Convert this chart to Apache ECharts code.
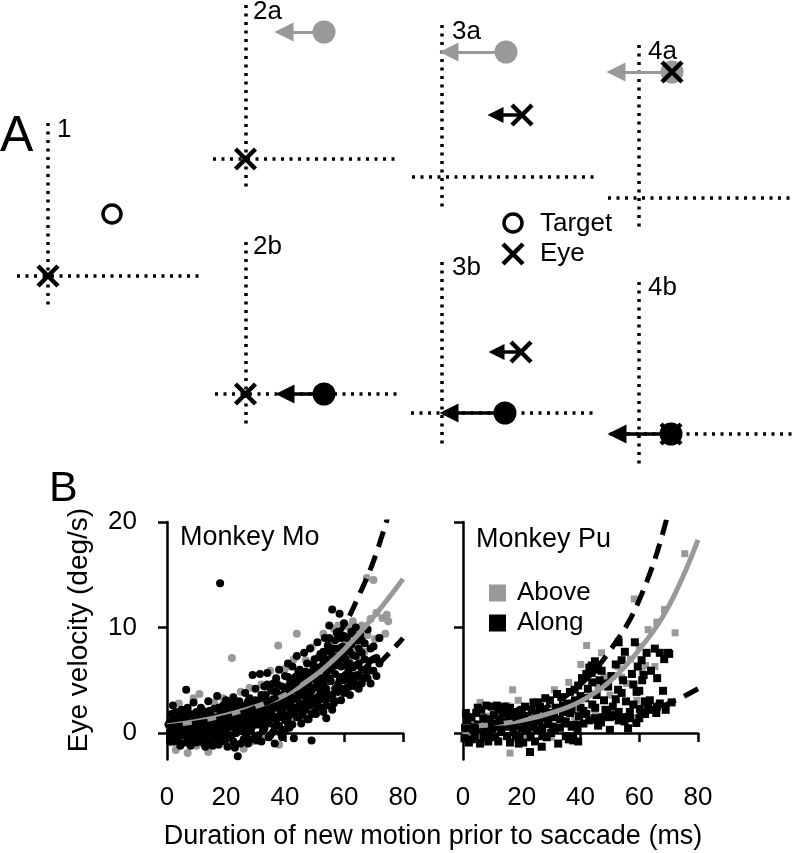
<!DOCTYPE html>
<html><head><meta charset="utf-8">
<script src="https://cdn.jsdelivr.net/npm/echarts@6/dist/echarts.min.js"></script>
<style>html,body{margin:0;padding:0;background:#fff}#c{width:794px;height:853px}</style>
</head><body><div id="c"></div>
<script>
const FONT = '"Liberation Sans", Arial, Helvetica, sans-serif';
const GRAY = '#999999';

// ---------- Panel A schematic (schematic canvas units) ----------
// vertical dotted axes: [x, yTop, yBottom]
const vDotted = [[48,123,310],[245.5,5,190],[245.5,242,427],[442,25,210],[442,262,447],[639,45,230],[639,282,467]];
// horizontal dotted axes: [y, xLeft, xRight]
const hDotted = [[276,17,202],[159,213,400],[394,215,397],[177,412,597],[413,411,595],[198,608,794],[434,610,794]];
const targetGray = [[324,32],[506,52],[672,72]];
const targetBlack = [[324,394],[505,413],[671,434]];
const targetOpen = [[112,214],[513,223]];
const eyePos = [[48,276],[245.5,159],[245.5,394],[522,115],[521,352],[672,72],[671,434],[513,254]];
// arrows: [fromX, y, tipX]
const arrowGray = [[324,32,275],[506,52,440],[672,72,607]];
const arrowBlack = [[324,394,276],[505,413,440],[671,434,608]];
const arrowEye = [[522,115,488],[521,352,489]];
const panelLabels = [['1',57,130],['2a',253,12],['2b',253,247],['3a',452,32],['3b',452,268],['4a',648,52],['4b',648,288]];
const keyLabels = [['Target',540,224],['Eye',540,254]];

// ---------- Panel B data ----------
const yTicks = [0,10,20];
const moBlack = [
[1,0.2],[1,1.1],[1.5,-0.4],[2,2.6],[2,0.6],[2.5,-0.8],[3,1.4],[3,0.0],[3.5,0.9],[4,-0.3],[4,1.7],[4.5,0.4],[5,1.5],[5,-1.0],[5.5,0.7],
[6,2.1],[6,-0.2],[6.5,4.1],[7,1.0],[7,-0.7],[7.5,0.3],[8,1.8],[8,-1.2],[8.5,0.8],[9,2.9],[9,-0.1],[9.5,1.3],[10,0.4],[10,-0.9],
[10.5,1.9],[11,0.9],[11,-0.5],[11.5,2.4],[12,0.1],[12,1.4],[12.5,-1.0],[13,0.6],[13,2.0],[13.5,-0.3],[14,1.2],[14,3.0],[14.5,0.2],[15,-0.8],[15,1.6],
[15.5,0.7],[16,2.3],[16,-0.2],[16.5,1.1],[17,3.5],[17,0.4],[17.5,-1.1],[18,1.8],[18,14.2],[18.5,0.9],[19,2.6],[19,-0.4],[19.5,1.4],[20,0.2],[20,3.1],
[20.5,-1.3],[21,1.9],[21,0.7],[21.5,2.8],[22,-0.2],[22,1.3],[22.5,3.4],[23,0.5],[23,-1.4],[23.5,2.2],[24,1.0],[24,-2.2],[24.5,3.0],[25,0.2],[25,1.7],
[25.5,2.6],[26,-0.6],[26,1.2],[26.5,3.8],[27,0.6],[27,2.1],[27.5,-1.0],[28,1.5],[28,3.3],[28.5,0.3],[29,2.5],[29,5.5],[29.5,1.0],[30,-0.3],[30,4.2],
[30.5,2.0],[31,0.8],[31,3.0],[31.5,5.6],[32,1.6],[32,-0.8],[32.5,2.7],[33,4.4],[33,0.4],[33.5,3.6],[34,1.9],[34,5.7],[34.5,0.9],[35,2.9],[35,-0.2],
[35.5,4.0],[36,1.4],[36,4.7],[36.5,-1.0],[37,2.4],[37,5.2],[37.5,3.4],[38,0.7],[38,6.0],[38.5,2.0],[39,4.4],[39,-0.4],[39.5,3.0],[40,1.2],[40,5.4],
[40.5,2.5],[41,3.9],[41,6.6],[41.5,0.5],[42,4.8],[42,2.0],[42.5,6.3],[43,3.3],[43,-0.5],[43.5,5.3],[44,1.5],[44,7.3],[44.5,4.2],[45,2.8],[45,6.0],
[45.5,0.9],[46,5.0],[46,3.6],[46.5,7.6],[47,2.2],[47,4.6],[47.5,6.6],[48,1.3],[48,3.9],[48.5,8.0],[49,5.6],[49,-0.7],[49.5,2.9],[50,7.0],[50,4.3],
[50.5,1.8],[51,6.2],[51,8.6],[51.5,3.5],[52,5.2],[52,7.5],[52.5,2.4],[53,6.8],[53,4.6],[53.5,9.0],[54,1.4],[54,5.8],[54.5,3.3],[55,7.8],[55,10.2],
[55.5,4.9],[56,6.6],[56,11.7],[56.5,2.8],[57,8.8],[57,5.6],[57.5,7.2],[58,3.9],[58,9.6],[58.5,11.3],[59,6.3],[59,3.1],[59.5,8.2],[60,5.0],[60,10.4],
[60.5,7.0],[61,4.3],[61,9.0],[61.5,5.9],[62,7.7],[62,3.6],[62.5,8.4],[63,9.4],[63,6.2],[63.5,4.8],[64,7.3],[64,10.0],[64.5,5.5],[65,8.0],[65,6.6],
[65.5,9.3],[66,4.7],[66,7.6],[67,6.0],[67,8.5],[68,5.2],[68,9.8],[68.5,6.8],[69,8.0],[70,8.2],[70,5.9],[71,7.1],[72,6.6],[72,9.0],
[0.5,0.8],[1.5,1.8],[2,-0.2],[2.5,1.3],[3,0.5],[3.5,-0.6],[4,1.0],[4.5,-1.2],[5,2.2],[5.5,0.0],[6,1.2],[6.5,-0.9],[7,1.7],[7.5,-0.3],[8,0.9],[8.5,-0.5],[9,1.6],[9.5,0.5],[10,1.2],
[10.5,-0.2],[11,1.5],[11.5,0.3],[12,-0.6],[12,2.1],[12.5,0.8],[13,-1.3],[13.5,1.3],[14,0.0],[14.5,2.1],[15,0.4],[15.5,-1.2],[16,1.5],[16.5,-0.5],[17,1.0],[17.5,2.4],[18,0.0],[18.5,-0.8],[19,1.0],[19.5,0.3],[20,1.6],[20,-0.6],
[20.5,2.4],[21,-0.3],[21.5,1.3],[22,2.1],[22.5,-0.8],[23,1.4],[23.5,0.0],[24,2.6],[24.5,0.6],[25,-1.0],[25.5,1.0],[26,2.1],[26.5,0.0],[27,1.4],[27.5,3.0],[28,0.2],[28.5,2.2],[29,-0.6],[29.5,1.7],[30,3.1],[30,0.8],
[30.5,-0.7],[31,2.0],[31.5,1.2],[32,3.6],[32.5,0.2],[33,2.2],[33.5,1.3],[34,3.0],[34.5,-0.4],[35,4.3],[35.5,1.8],[36,3.2],[36.5,0.6],[37,1.3],[37.5,4.6],[38,2.8],[38.5,0.0],[39,3.6],[39.5,1.8],[40,4.0],[40,0.3],
[40.5,3.3],[41,1.5],[41.5,4.6],[42,3.4],[42.5,0.8],[43,5.0],[43.5,2.4],[44,4.0],[44.5,5.8],[45,1.6],[45.5,4.6],[46,2.6],[46.5,5.5],[47,3.4],[47.5,1.3],[48,5.4],[48.5,2.6],[49,4.0],[49.5,6.5],[50,2.0],
[50.5,5.0],[51,3.0],[51.5,7.2],[52,4.0],[52.5,6.3],[53,2.0],[53.5,5.3],[54,7.0],[54.5,8.3],[55,3.6],[55.5,6.0],[56,2.2],[56.5,8.0],[57,4.2],[57.5,9.5],[58,6.8],[58.5,5.0],[59,9.0],[59.5,4.2],[60,7.6],
[60.5,5.5],[61,8.0],[62,5.0],[62.5,9.6],[63,7.4],[64,4.4],[64.5,8.8],[65,5.4],[66,8.8],[67,7.0],[68,6.2],[69,4.7],[70,7.0],[71,5.4],
[1,-0.8],[2,1.6],[3,2.0],[4,0.1],[5,0.3],[6,0.6],[7,2.4],[8,-0.4],[9,0.6],[10,2.0],
[11,0.2],[12,0.8],[13,-0.5],[14,0.7],[15,1.1],[16,0.1],[17,-0.4],[18,0.6],[19,1.9],[20,-0.1],
[21,1.1],[22,0.6],[23,2.8],[24,1.5],[25,0.7],[26,1.6],[27,-0.4],[28,2.7],[29,0.7],[30,1.4],
[31,2.5],[31,-0.2],[32,1.0],[33,3.0],[34,1.3],[34,4.6],[35,2.3],[36,0.1],[36,2.6],[37,3.9],
[38,1.5],[38,3.5],[39,2.4],[40,2.8],[41,0.9],[41,5.3],[42,2.7],[43,1.8],[43,4.1],[44,2.3],
[44,3.2],[45,3.6],[45,5.1],[46,1.8],[46,4.2],[47,2.9],[47,5.8],[48,3.2],[48,4.7],[49,1.8],
[49,3.4],[50,5.6],[51,2.4],[51,4.6],[52,3.2],[52,6.2],[53,3.8],[53,7.7],[54,4.2],[54,2.6],
[55,5.2],[55,9.0],[56,3.6],[56,7.4],[57,3.0],[57,6.4],[58,4.6],[58,8.0],[59,5.3],[59,7.2],
[60,3.8],[60,9.2],[61,6.4],[62,4.4],[62,6.6],[63,5.4],[64,6.4],[65,4.2],[66,6.0],[67,5.2]
];
const moGray = [
[1,0.5],[1.5,-0.9],[2,1.2],[3,-1.6],[3.5,0.3],[4,2.8],[5,0.9],[6,-0.6],[7,-1.9],[7.5,1.6],[8,0.2],[9,3.3],[10,-1.2],[10.5,1.0],[11,3.7],
[12,-0.2],[13,1.8],[14,-1.8],[15,0.8],[16,2.9],[17,-0.9],[18,1.5],[19,3.3],[20,-0.5],[21,2.3],[22,7.1],[22.5,0.4],[23,-1.2],[24,2.0],[25,3.9],
[26,-1.5],[27,1.2],[28,4.3],[29,-0.8],[30,2.9],[31,0.8],[32,4.6],[33,-0.4],[34,2.3],[35,5.9],[36,1.2],[37,3.7],[37.7,8.3],[38,-1.1],[39,2.6],
[40,6.1],[41,4.2],[42,1.1],[43,7.0],[44,9.4],[44.5,3.4],[45,5.7],[46,2.0],[47,6.9],[48,4.4],[49,8.1],[50,3.0],[51,5.8],[52,7.3],[53,9.4],
[54,4.9],[55,8.6],[56,6.2],[56.5,9.9],[57,3.8],[58,10.2],[58.5,7.8],[59,9.4],[60,6.4],[60.5,8.8],[61,10.1],[62,7.2],[62.5,9.5],[63,10.6],[63.2,9.9],
[64,8.2],[65,9.1],[65.5,6.8],[66,10.2],[67,7.7],[67.7,14.7],[68,9.3],[69,10.8],[70,14.5],[70.5,8.9],[71,11.4],[72,9.0],[73,10.9],[74,9.4],[74.5,11.2],[75,10.6]
];
const moFitX = [0,10,20,30,40,50,60,70,80];
const moFitMid = [0.7,1.1,1.7,2.5,3.6,5.4,7.9,11.0,14.6];
const moFitUpX = [0,10,20,30,40,50,60,65,70,75];
const moFitUp = [0.6,0.95,1.5,2.4,3.9,6.3,10.2,13.0,16.3,20.6];
const moFitLow = [0.4,0.6,0.85,1.25,1.85,2.8,4.1,6.1,9.0];

const puBlack = [
[0.5,-0.5],[0.7,0.5],[1.5,1.2],[2,-0.9],[2.9,1.5],[3.5,0.3],[4,-0.3],[4.5,1.9],[5,0.8],[5.8,-1.0],[6.2,2.2],[6.9,1.4],[7.5,0.2],[8,2.6],[8.6,-0.8],[9,1.0],[9.8,2.5],[10,0.4],
[10.5,1.7],[11,-0.4],[11.5,0.9],[12,2.2],[12.5,1.3],[13,0.1],[13.5,2.0],[14.3,1.9],[14.5,0.6],[15,-0.3],[15.5,1.5],[16,2.4],[16.5,0.8],[17.1,0.1],[17.5,1.7],[18,-0.2],[18.8,-0.35],[19,1.2],[19.5,2.1],[20,0.5],
[20.5,-0.9],[21.1,2.5],[21.5,1.0],[22,0.2],[22.8,-1.8],[23.4,2.2],[23.5,1.3],[24,0.6],[24.5,-0.8],[25,1.7],[25.5,2.9],[26.2,2.5],[26.8,-1.3],[27,0.4],[27.5,1.4],[28,2.1],[28.5,-0.4],[29,0.9],[29.6,3.1],[30,1.6],
[30.5,0.6],[31.3,0.3],[31.5,2.4],[32.4,-1.0],[33,1.3],[33.5,3.4],[34,2.0],[34.7,0.9],[35,-0.3],[35.5,2.8],[36.4,1.9],[36.4,3.9],[37,0.6],[37.5,-0.35],[37.5,-0.7],[38.1,3.1],[38.7,0.75],[39.2,4.5],[39.2,-0.8],[39.5,1.6],[40,2.4],
[40.5,5.2],[41,0.9],[41.5,3.3],[42,1.8],[42.5,4.2],[43,6.2],[43.8,5.7],[43.8,6.4],[44,2.7],[44.9,6.8],[44.9,1.4],[45.5,3.6],[46,0.7],[46.5,5.0],[47.2,5.9],[47.5,1.5],[48,3.1],[48.5,2.2],[49.4,4.4],[50,0.3],[50,1.5],[50.5,5.4],
[51.7,1.7],[52,3.2],[52.8,4.1],[53,2.0],[53,8.6],[54,6.9],[54.5,5.0],[55.1,7.7],[55.5,3.0],[56.2,0.45],[56.8,2.0],[57.5,5.6],[58,4.6],[58.5,8.6],[59,0.95],[59.1,3.9],[59.5,6.3],[60,4.0],[60.2,2.3],[60.8,6.9],
[61.5,5.5],[61.9,3.0],[62.5,7.6],[63,2.4],[63.6,3.1],[64,5.9],[65.3,8.0],[65.8,1.9],[66.1,5.2],[67,2.8],[68.1,4.0],[68.5,7.0],[69.8,7.6],[70.2,7.5],[71,2.9],
[1,1.9],[2,0.6],[3,-0.6],[4,0.4],[5,2.4],[6,0.3],[7,-0.4],[8,1.3],[9,-0.3],[10.5,0.9],[11.5,2.6],[12,-0.8],[13,1.1],[14,2.5],[15,0.9],[16,-0.9],[17,2.0],[18,1.0],[19,-1.0],[20,2.2],
[21,0.4],[22,1.6],[23,-0.4],[24,2.9],[25,0.3],[26,1.2],[27,-0.3],[28,3.3],[29,1.9],[30,0.0],[31,1.5],[32,3.7],[33,0.5],[34,2.6],[35,1.1],[36,-0.6],[37,2.2],[38,4.1],[39,0.2],[40,3.5],
[41,2.1],[42,5.6],[43,1.2],[44,4.8],[45,2.4],[46,6.0],[47,1.0],[48,4.7],[49,1.9],[51,2.5],[52,6.5],[53,1.2],[54,3.8],[55,1.1],[57,1.4],[58,2.7],[60,1.4],[61,5.0],[62,1.8],[64,2.2],[66,2.5],[67,7.6],[69,2.2]
];
const puGray = [
[1,0.2],[2.5,-0.1],[4,0.9],[5.8,2.9],[6.3,-0.35],[8,1.6],[9.5,0.1],[10.9,-0.35],[12,1.9],[13.5,0.5],[15,2.6],[16,-1.9],[16.9,4.1],[17.1,-0.5],[18.8,3.1],
[20,1.2],[22,-0.2],[24,2.0],[26,0.8],[28,1.4],[30,-0.4],[31.1,4.1],[32,2.3],[34,1.2],[36,4.8],[37,2.7],[38,1.5],[40.1,6.5],[42.1,8.3],[43,3.8],
[45,2.0],[46,4.3],[47.2,7.6],[48,5.3],[50,3.6],[52.8,6.3],[54,5.3],[55.7,4.7],[57,7.0],[58.3,12.7],[59.2,3.1],[60,8.2],[61,5.8],[62.2,6.4],[63,9.8],
[65.3,6.3],[66,10.5],[68.6,11.7],[72.2,9.5],[75.5,17.0]
];
const puFitX = [0,10,20,30,40,50,60,70,80];
const puFitMid = [0.55,0.8,1.2,1.9,3.0,4.9,7.9,12.0,18.3];
const puFitUp = [0.5,0.9,1.6,2.7,4.6,7.8,12.6,21.0,34.0];
const puFitLow = [0.3,0.42,0.55,0.75,1.0,1.4,1.95,2.8,4.2];

const zip = (xs, ys) => xs.map((x, i) => [x, ys[i]]);

const chart = echarts.init(document.getElementById('c'), null, {renderer: 'canvas'});

const dottedData = vDotted.map(d => ({coords: [[d[0], d[1]], [d[0], d[2]]]}))
  .concat(hDotted.map(d => ({coords: [[d[1], d[0]], [d[2], d[0]]]})));
const arrowData = (arr, head) => arr.map(a => ({coords: [[a[0], a[1]], [a[2] + head / 2, a[1]]]}));
const X_PATH = 'path://M0,0L10,10M10,0L0,10';

const axisCommonX = (gi) => ({
  type: 'value', gridIndex: gi, min: 0, max: 80, interval: 20, offset: 13,
  axisLine: {show: true, lineStyle: {color: '#000', width: 2.5}},
  axisTick: {show: true, length: 9, lineStyle: {color: '#000', width: 2.5}},
  axisLabel: {fontSize: 26, fontFamily: FONT, color: '#000', margin: 12},
  splitLine: {show: false}
});
const axisCommonY = (gi, off, labels) => ({
  type: 'value', gridIndex: gi, min: -2.5, max: 20, offset: off,
  axisLine: {show: true, lineStyle: {color: '#000', width: 2.5}},
  axisTick: {show: true, length: 9, customValues: yTicks, lineStyle: {color: '#000', width: 2.5}},
  axisLabel: {show: labels, customValues: yTicks, fontSize: 26, fontFamily: FONT, color: '#000', margin: 18},
  splitLine: {show: false}
});

const lineSeries = (gi, data, color, type, width) => ({
  type: 'line', xAxisIndex: gi, yAxisIndex: gi, data: data, smooth: 0.4, showSymbol: false,
  symbol: 'none', silent: true, clip: true, z: 5,
  lineStyle: {color: color, width: width, type: type, cap: 'butt'}
});

const option = {
  animation: false,
  backgroundColor: '#fff',
  grid: [
    {left: 0, top: 0, width: 794, height: 470},
    {left: 167, top: 522, width: 236, height: 237.4},
    {left: 463, top: 522, width: 235, height: 237.4}
  ],
  xAxis: [
    {type: 'value', gridIndex: 0, min: 0, max: 794, show: false},
    axisCommonX(1),
    axisCommonX(2)
  ],
  yAxis: [
    {type: 'value', gridIndex: 0, min: 0, max: 470, inverse: true, show: false},
    axisCommonY(1, 12, true),
    axisCommonY(2, 11, false)
  ],
  legend: {
    show: true, orient: 'vertical', left: 484, top: 575, icon: 'rect',
    itemWidth: 17, itemHeight: 17, itemGap: 4, selectedMode: false,
    data: ['Above', 'Along'],
    textStyle: {fontFamily: FONT, fontSize: 26, color: '#000', lineHeight: 26, padding: [0, 0, 0, 6]}
  },
  series: [
    // Panel A
    {type: 'lines', coordinateSystem: 'cartesian2d', xAxisIndex: 0, yAxisIndex: 0, silent: true,
     data: dottedData, symbol: ['none', 'none'],
     lineStyle: {color: '#000', width: 3.5, type: [3, 5.5], cap: 'butt', opacity: 1}},
    {type: 'lines', coordinateSystem: 'cartesian2d', xAxisIndex: 0, yAxisIndex: 0, silent: true,
     data: arrowData(arrowGray, 18), symbol: ['none', 'triangle'], symbolSize: 19,
     itemStyle: {color: GRAY}, lineStyle: {color: GRAY, width: 3, opacity: 1}},
    {type: 'lines', coordinateSystem: 'cartesian2d', xAxisIndex: 0, yAxisIndex: 0, silent: true,
     data: arrowData(arrowBlack, 18), symbol: ['none', 'triangle'], symbolSize: 19,
     itemStyle: {color: '#000'}, lineStyle: {color: '#000', width: 3.5, opacity: 1}},
    {type: 'lines', coordinateSystem: 'cartesian2d', xAxisIndex: 0, yAxisIndex: 0, silent: true,
     data: arrowData(arrowEye, 15), symbol: ['none', 'triangle'], symbolSize: 16,
     itemStyle: {color: '#000'}, lineStyle: {color: '#000', width: 3.5, opacity: 1}},
    {type: 'scatter', xAxisIndex: 0, yAxisIndex: 0, silent: true, data: targetGray, symbol: 'circle', symbolSize: 23,
     itemStyle: {color: GRAY, opacity: 1}},
    {type: 'scatter', xAxisIndex: 0, yAxisIndex: 0, silent: true, data: targetBlack, symbol: 'circle', symbolSize: 23,
     itemStyle: {color: '#000', opacity: 1}},
    {type: 'scatter', xAxisIndex: 0, yAxisIndex: 0, silent: true, data: targetOpen, symbol: 'circle', symbolSize: 18,
     itemStyle: {color: '#fff', borderColor: '#000', borderWidth: 3.5, opacity: 1}},
    {type: 'scatter', xAxisIndex: 0, yAxisIndex: 0, silent: true, data: eyePos, symbol: X_PATH, symbolSize: 20,
     itemStyle: {color: 'rgba(0,0,0,0)', borderColor: '#000', borderWidth: 4.5, opacity: 1}},
    // Panel B, Monkey Mo
    {type: 'scatter', name: 'Above', xAxisIndex: 1, yAxisIndex: 1, data: moGray, symbol: 'circle', symbolSize: 8,
     itemStyle: {color: GRAY, opacity: 1}, silent: true},
    {type: 'scatter', name: 'Along', xAxisIndex: 1, yAxisIndex: 1, data: moBlack, symbol: 'circle', symbolSize: 8,
     itemStyle: {color: '#000', opacity: 1}, silent: true},
    lineSeries(1, zip(moFitX, moFitMid), GRAY, 'solid', 5),
    lineSeries(1, zip(moFitUpX, moFitUp), '#000', [16, 9], 5),
    lineSeries(1, zip(moFitX, moFitLow), '#000', [16, 9], 5),
    // Panel B, Monkey Pu
    {type: 'scatter', name: 'Above', xAxisIndex: 2, yAxisIndex: 2, data: puGray, symbol: 'rect', symbolSize: 7,
     itemStyle: {color: GRAY, opacity: 1}, silent: true},
    {type: 'scatter', name: 'Along', xAxisIndex: 2, yAxisIndex: 2, data: puBlack, symbol: 'rect', symbolSize: 8,
     itemStyle: {color: '#000', opacity: 1}, silent: true},
    lineSeries(2, zip(puFitX, puFitMid), GRAY, 'solid', 5),
    lineSeries(2, zip(puFitX, puFitUp), '#000', [16, 9], 5),
    lineSeries(2, zip(puFitX, puFitLow), '#000', [16, 9], 5)
  ],
  graphic: [
    {type: 'text', left: 0, top: 112, style: {text: 'A', font: '50px ' + FONT, fill: '#000'}},
    {type: 'text', left: 49, top: 468, style: {text: 'B', font: '43px ' + FONT, fill: '#000'}},
    ...panelLabels.map(p => ({type: 'text', x: p[1], y: p[2], style: {text: p[0], font: '26px ' + FONT, fill: '#000', align: 'left', verticalAlign: 'middle'}})),
    ...keyLabels.map(p => ({type: 'text', x: p[1], y: p[2], style: {text: p[0], font: '26px ' + FONT, fill: '#000', align: 'left', verticalAlign: 'middle'}})),
    {type: 'text', x: 180, y: 538, style: {text: 'Monkey Mo', font: '27px ' + FONT, fill: '#000', align: 'left', verticalAlign: 'middle'}},
    {type: 'text', x: 476, y: 540, style: {text: 'Monkey Pu', font: '27px ' + FONT, fill: '#000', align: 'left', verticalAlign: 'middle'}},
    {type: 'text', x: 79, y: 630, rotation: Math.PI / 2, style: {text: 'Eye velocity (deg/s)', font: '28px ' + FONT, fill: '#000', align: 'center', verticalAlign: 'middle'}},
    {type: 'text', x: 433, y: 837, style: {text: 'Duration of new motion prior to saccade (ms)', font: '27px ' + FONT, fill: '#000', align: 'center', verticalAlign: 'middle'}}
  ]
};
chart.setOption(option);
</script>
</body></html>
